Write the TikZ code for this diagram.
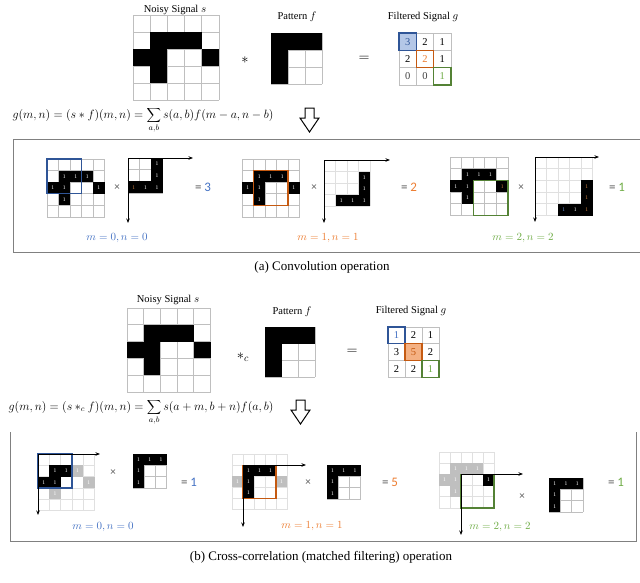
\documentclass[tikz,border=0pt]{standalone}
\usepackage{fontspec}
\setmainfont{Liberation Serif}
\newfontfamily\calib{Carlito}
\usetikzlibrary{arrows.meta}
\definecolor{myblue}{HTML}{2F5597}
\definecolor{lblue}{HTML}{4472C4}
\definecolor{fblue}{HTML}{B4C7E7}
\definecolor{myorange}{HTML}{C55A11}
\definecolor{lorange}{HTML}{ED7D31}
\definecolor{forange}{HTML}{F4B183}
\definecolor{mygreen}{HTML}{548235}
\definecolor{lgreen}{HTML}{70AD47}
\definecolor{gline}{HTML}{BFBFBF}
\definecolor{fline}{HTML}{E0E0E0}
\definecolor{gcell}{HTML}{BFBFBF}
\definecolor{boxc}{HTML}{808080}
\definecolor{eqc}{HTML}{595959}
\definecolor{tbrown}{HTML}{D08040}
\definecolor{tblue}{HTML}{6F9BE0}
\newcount\cellno
\newcommand\onecell[3][black]{%
  \global\advance\cellno by 1
  \fill[#1] (#2,#3) rectangle ++(1,1);
  \node[onetxt] (one\the\cellno) at (#2+0.5,#3+0.5) {1};}
\newcommand\onecellc[3]{%
  \global\advance\cellno by 1
  \fill[black] (#2,#3) rectangle ++(1,1);
  \node[onetxt,text=#1] (one\the\cellno) at (#2+0.5,#3+0.5) {1};}
\newcommand\blkcell[2]{\fill[black] (#1,#2) rectangle ++(1,1);}
\newcommand\gridlines[3]{%
  \foreach \i in {0,...,#2} \draw[#1] (\i,0) -- (\i,#3);
  \foreach \j in {0,...,#3} \draw[#1] (0,\j) -- (#2,\j);}
\tikzset{
  onetxt/.style={text=white, font=\fontsize{5.5}{5.5}\selectfont, inner sep=0pt},
  ttl/.style={font=\fontsize{10.5}{12}\selectfont, inner sep=0pt},
  num/.style={font=\fontsize{10.5}{12}\selectfont, inner sep=0pt},
  captxt/.style={font=\fontsize{13}{15}\selectfont, inner sep=0pt},
  mlab/.style={font=\fontsize{11}{13}\selectfont, inner sep=0pt},
  eqs/.style={font=\calib\fontsize{13}{15}\selectfont, inner sep=0pt, text=eqc},
  timessym/.style={font=\calib\fontsize{11}{13}\selectfont, inner sep=0pt, text=eqc},
  axisarrow/.style={-{Stealth[length=4.5pt,width=3.5pt]}, line width=0.9pt},
  gl/.style={gline, line width=0.8pt},
  fl/.style={fline, line width=0.7pt},
  boxline/.style={boxc, line width=1pt},
  hl/.style={line width=1.2pt},
  bigarrow/.style={draw=black, line width=1pt, fill=white, line join=miter}
}
\begin{document}
\begin{tikzpicture}[x=1pt,y=-1pt]
\useasboundingbox (0,0) rectangle (640,582);
\fill[white] (0,0) rectangle (640,582);

%%%%%%%%%%%%%%%% (a) top row
\node[ttl] (ta1) at (175,10) {Noisy Signal $s$};
\node[ttl] (ta2) at (297,17) {Pattern $f$};
\node[ttl] (ta3) at (423,17) {Filtered Signal $g$};
\begin{scope}[xshift=133pt,yshift=-15pt,x=17.2pt,y=-17pt]
  \gridlines{gl}{5}{5}
  \foreach \c/\r in {1/1,2/1,3/1,0/2,1/2,4/2,1/3} {\blkcell{\c}{\r}}
\end{scope}
\node[font=\fontsize{14}{14}\selectfont, inner sep=0pt] (opa) at (245,60) {$*$};
\begin{scope}[xshift=271pt,yshift=-33pt,x=17pt,y=-17pt]
  \gridlines{gl}{3}{3}
  \foreach \c/\r in {0/0,1/0,2/0,0/1,0/2} {\blkcell{\c}{\r}}
\end{scope}
\node[font=\fontsize{14}{14}\selectfont, inner sep=0pt] (eqa) at (364,59) {$=$};
\begin{scope}[xshift=399pt,yshift=-33pt,x=17.3pt,y=-17.3pt]
  \fill[fblue] (0,0) rectangle (1,1);
  \gridlines{gl}{3}{3}
  \draw[myblue,hl] (0,0) rectangle (1,1);
  \draw[myorange,hl] (1,1) rectangle (2,2);
  \draw[mygreen,hl] (2,2) rectangle (3,3);
  \node[num,text=myblue] (ga00) at (0.5,0.5) {3};
  \node[num] (ga10) at (1.5,0.5) {2};
  \node[num] (ga20) at (2.5,0.5) {1};
  \node[num] (ga01) at (0.5,1.5) {2};
  \node[num,text=lorange] (ga11) at (1.5,1.5) {2};
  \node[num] (ga21) at (2.5,1.5) {1};
  \node[num,text=black!75] (ga02) at (0.5,2.5) {0};
  \node[num,text=black!75] (ga12) at (1.5,2.5) {0};
  \node[num,text=lgreen] (ga22) at (2.5,2.5) {1};
\end{scope}
\node[font=\fontsize{11.5}{13}\selectfont, inner sep=0pt] (fa) at (143,120)
  {$g(m,n)=(s*f)(m,n)=\displaystyle\sum_{a,b}s(a,b)f(m-a,n-b)$};
\draw[bigarrow] (305,108) -- (314,108) -- (314,118) -- (319,118) -- (309.5,132) -- (300,118) -- (305,118) -- cycle;

%%%%%%%%%%%%%%%% (a) box (right side open, runs off the page)
\draw[boxline] (641,139) -- (13,139) -- (13,252) -- (641,252);

% panel a1
\begin{scope}[xshift=47pt,yshift=-159pt,x=11.5pt,y=-11.6pt]
  \gridlines{gl}{5}{5}
  \foreach \c/\r in {1/1,2/1,3/1,0/2,1/2,4/2,1/3} {\onecell{\c}{\r}}
  \draw[myblue,hl] (0,0) rectangle (3,3);
\end{scope}
\node[timessym] (xa1) at (117,188) {×};
\begin{scope}[xshift=128pt,yshift=-158pt,x=11.6pt,y=-11.7pt]
  \gridlines{gl}{3}{3}
  \foreach \c/\r in {2/0,2/1,1/2,2/2} {\onecell{\c}{\r}}
  \onecellc{tbrown}{0}{2}
\end{scope}
\coordinate (a1o) at (128,158);
\coordinate (a1x) at (193,158);
\coordinate (a1y) at (128,223);
\draw[axisarrow] (a1o) -- (a1x);
\draw[axisarrow] (a1o) -- (a1y);
\node[eqs] (ra1) at (203,187) {= \textcolor{lblue}{3}};
\node[mlab,text=lblue] (ma1) at (117,238) {$m=0,n=0$};

% panel a2
\begin{scope}[xshift=242pt,yshift=-159pt,x=11.5pt,y=-11.6pt]
  \gridlines{gl}{5}{5}
  \foreach \c/\r in {1/1,2/1,3/1,0/2,1/2,4/2,1/3} {\onecell{\c}{\r}}
  \draw[myorange,hl] (1,1) rectangle (4,4);
\end{scope}
\node[timessym] (xa2) at (314,188) {×};
\begin{scope}[xshift=324pt,yshift=-160pt,x=11.5pt,y=-11.5pt]
  \gridlines{fl}{4}{4}
  \foreach \c/\r in {3/1,3/2,1/3,2/3,3/3} {\onecell{\c}{\r}}
\end{scope}
\coordinate (a2o) at (324,160);
\coordinate (a2x) at (390,160);
\coordinate (a2y) at (324,223);
\draw[axisarrow] (a2o) -- (a2x);
\draw[axisarrow] (a2o) -- (a2y);
\node[eqs] (ra2) at (409,187) {= \textcolor{lorange}{2}};
\node[mlab,text=lorange] (ma2) at (328,238) {$m=1,n=1$};

% panel a3
\begin{scope}[xshift=450pt,yshift=-157pt,x=11.6pt,y=-11.7pt]
  \gridlines{gl}{5}{5}
  \foreach \c/\r in {1/1,2/1,3/1,0/2,1/2,1/3} {\onecell{\c}{\r}}
  \onecellc{tbrown}{4}{2}
  \draw[mygreen,hl] (2,2) rectangle (5,5);
\end{scope}
\node[timessym] (xa3) at (521,188) {×};
\begin{scope}[xshift=535pt,yshift=-157pt,x=11.5pt,y=-11.7pt]
  \gridlines{fl}{5}{5}
  \foreach \c/\r in {4/2,4/3,4/4} {\onecellc{tbrown}{\c}{\r}}
  \onecellc{tblue}{2}{4}
  \onecell{3}{4}
\end{scope}
\coordinate (a3o) at (535,157);
\coordinate (a3x) at (599,157);
\coordinate (a3y) at (535,222);
\draw[axisarrow] (a3o) -- (a3x);
\draw[axisarrow] (a3o) -- (a3y);
\node[eqs] (ra3) at (617,187) {= \textcolor{lgreen}{1}};
\node[mlab,text=lgreen] (ma3) at (523,238) {$m=2,n=2$};

\node[captxt] (capa) at (322,267) {(a) Convolution operation};

%%%%%%%%%%%%%%%% (b) top row
\node[ttl] (tb1) at (168,300) {Noisy Signal $s$};
\node[ttl] (tb2) at (292,312) {Pattern $f$};
\node[ttl] (tb3) at (411,311) {Filtered Signal $g$};
\begin{scope}[xshift=127pt,yshift=-308pt,x=16.7pt,y=-16.8pt]
  \gridlines{gl}{5}{5}
  \foreach \c/\r in {1/1,2/1,3/1,0/2,1/2,4/2,1/3} {\blkcell{\c}{\r}}
\end{scope}
\node[font=\fontsize{14}{14}\selectfont, inner sep=0pt] (opb) at (243,357) {$*_c$};
\begin{scope}[xshift=265pt,yshift=-327pt,x=16.7pt,y=-16.7pt]
  \gridlines{gl}{3}{3}
  \foreach \c/\r in {0/0,1/0,2/0,0/1,0/2} {\blkcell{\c}{\r}}
\end{scope}
\node[font=\fontsize{14}{14}\selectfont, inner sep=0pt] (eqb) at (352,352) {$=$};
\begin{scope}[xshift=388pt,yshift=-327pt,x=17pt,y=-16.8pt]
  \fill[forange] (1,1) rectangle (2,2);
  \gridlines{gl}{3}{3}
  \draw[myblue,hl] (0,0) rectangle (1,1);
  \draw[myorange,hl] (1,1) rectangle (2,2);
  \draw[mygreen,hl] (2,2) rectangle (3,3);
  \node[num,text=lblue] (gb00) at (0.5,0.5) {1};
  \node[num] (gb10) at (1.5,0.5) {2};
  \node[num] (gb20) at (2.5,0.5) {1};
  \node[num] (gb01) at (0.5,1.5) {3};
  \node[num,text=myorange] (gb11) at (1.5,1.5) {5};
  \node[num] (gb21) at (2.5,1.5) {2};
  \node[num] (gb02) at (0.5,2.5) {2};
  \node[num] (gb12) at (1.5,2.5) {2};
  \node[num,text=lgreen] (gb22) at (2.5,2.5) {1};
\end{scope}
\node[font=\fontsize{11.5}{13}\selectfont, inner sep=0pt] (fb) at (141,412)
  {$g(m,n)=(s*_c f)(m,n)=\displaystyle\sum_{a,b}s(a+m,b+n)f(a,b)$};
\draw[bigarrow] (296,400) -- (305,400) -- (305,410) -- (310,410) -- (300.5,424) -- (291,410) -- (296,410) -- cycle;

%%%%%%%%%%%%%%%% (b) box (no top edge)
\draw[boxline] (10,432) -- (10,541) -- (636,541) -- (636,432);

% panel b1
\begin{scope}[xshift=38pt,yshift=-454pt,x=11.3pt,y=-11.3pt]
  \gridlines{fl}{5}{5}
  \foreach \c/\r in {1/1,2/1,0/2,1/2} {\onecell{\c}{\r}}
  \foreach \c/\r in {3/1,4/2,1/3} {\onecell[gcell]{\c}{\r}}
  \draw[myblue,hl] (0,0) rectangle (3,3);
\end{scope}
\coordinate (b1o) at (38,454);
\coordinate (b1x) at (100,454);
\coordinate (b1y) at (38,515);
\draw[axisarrow] (b1o) -- (b1x);
\draw[axisarrow] (b1o) -- (b1y);
\node[timessym] (xb1) at (113,473) {×};
\begin{scope}[xshift=133pt,yshift=-454pt,x=11.2pt,y=-11.3pt]
  \gridlines{gl}{3}{3}
  \foreach \c/\r in {0/0,1/0,2/0,0/1,0/2} {\onecell{\c}{\r}}
\end{scope}
\node[eqs] (rb1) at (189,482) {= \textcolor{lblue}{1}};
\node[mlab,text=lblue] (mb1) at (103,527) {$m=0,n=0$};

% panel b2
\begin{scope}[xshift=232pt,yshift=-454pt,x=11pt,y=-11.1pt]
  \gridlines{fl}{5}{5}
  \foreach \c/\r in {1/1,2/1,3/1,1/2,1/3} {\onecell{\c}{\r}}
  \foreach \c/\r in {0/2,4/2} {\onecell[gcell]{\c}{\r}}
  \draw[myorange,hl] (1,1) rectangle (4,4);
\end{scope}
\coordinate (b2o) at (243,465);
\coordinate (b2x) at (306,465);
\coordinate (b2y) at (243,527);
\draw[axisarrow] (b2o) -- (b2x);
\draw[axisarrow] (b2o) -- (b2y);
\node[timessym] (xb2) at (308,483) {×};
\begin{scope}[xshift=327pt,yshift=-465pt,x=11.2pt,y=-11.3pt]
  \gridlines{gl}{3}{3}
  \foreach \c/\r in {0/0,1/0,2/0,0/1,0/2} {\onecell{\c}{\r}}
\end{scope}
\node[eqs] (rb2) at (390,482) {= \textcolor{lorange}{5}};
\node[mlab,text=lorange] (mb2) at (312,526) {$m=1,n=1$};

% panel b3
\begin{scope}[xshift=439pt,yshift=-452pt,x=11pt,y=-11.2pt]
  \gridlines{fl}{5}{5}
  \foreach \c/\r in {4/2} {\onecell{\c}{\r}}
  \foreach \c/\r in {1/1,2/1,3/1,0/2,1/2,1/3} {\onecell[gcell]{\c}{\r}}
  \draw[mygreen,hl] (2,2) rectangle (5,5);
\end{scope}
\coordinate (b3o) at (461,474);
\coordinate (b3x) at (523,474);
\coordinate (b3y) at (461,535);
\draw[axisarrow] (b3o) -- (b3x);
\draw[axisarrow] (b3o) -- (b3y);
\node[timessym] (xb3) at (522,497) {×};
\begin{scope}[xshift=549pt,yshift=-478pt,x=11.3pt,y=-11.3pt]
  \gridlines{gl}{3}{3}
  \foreach \c/\r in {0/0,1/0,2/0,0/1,0/2} {\onecell{\c}{\r}}
\end{scope}
\node[eqs] (rb3) at (616,482) {= \textcolor{lgreen}{1}};
\node[mlab,text=lgreen] (mb3) at (500,527) {$m=2,n=2$};

\node[captxt] (capb) at (321,557) {(b) Cross-correlation (matched filtering) operation};
\end{tikzpicture}
\end{document}
